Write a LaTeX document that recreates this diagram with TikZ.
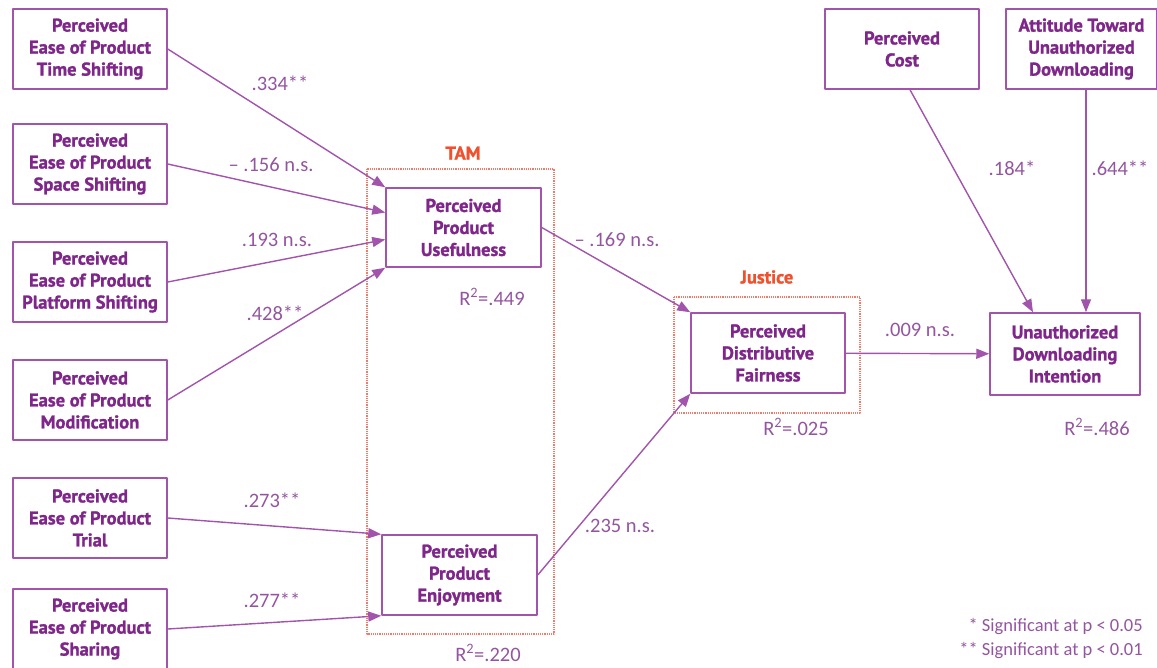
\documentclass[tikz,border=0pt]{standalone}
\usepackage{fontspec}
\setmainfont{PT Sans}
\newfontfamily\boxfont{PT Sans}[BoldFeatures={FakeBold=1.3}]
\newfontfamily\labfont{Carlito}
\usetikzlibrary{arrows.meta}
\definecolor{boxline}{HTML}{A254AC}
\definecolor{boxtext}{HTML}{7E2689}
\definecolor{labtext}{HTML}{9455A0}
\definecolor{grpred}{HTML}{F0502D}
\definecolor{grpdash}{HTML}{F27A68}
\begin{document}
\begin{tikzpicture}[x=1pt, y=-1pt, line join=round, >={Triangle[length=13pt,width=10pt]},
  var/.style={draw=boxline, line width=1.5pt, text=boxtext, align=center, inner sep=0pt,
    font=\boxfont\bfseries\fontsize{18.5}{22}\selectfont, minimum width=154pt, minimum height=80pt},
  path/.style={->, draw=boxline, line width=1.4pt},
  coef/.style={text=labtext, font=\labfont\fontsize{20.5}{22}\selectfont, inner sep=0pt},
  grp/.style={draw=grpdash, densely dotted, line width=1.2pt},
  grplab/.style={text=grpred, font=\boxfont\bfseries\fontsize{18.5}{22}\selectfont, inner sep=0pt}]
\useasboundingbox (0,0) rectangle (1157,667);

% Gruppenrahmen
\draw[grp] (367,169) rectangle (554,634);
\draw[grp] (674,297) rectangle (860,413);
\node[grplab] (tam) at (463,153) {TAM};
\node[grplab] (justice) at (767,277) {Justice};

% Einflussfaktoren links
\node[var] (ts) at (90,49) {Perceived\\Ease of Product\\Time Shifting};
\node[var] (ss) at (90,164) {Perceived\\Ease of Product\\Space Shifting};
\node[var] (ps) at (90,282) {Perceived\\Ease of Product\\Platform Shifting};
\node[var] (pm) at (90,400) {Perceived\\Ease of Product\\Modification};
\node[var] (pt) at (90,518) {Perceived\\Ease of Product\\Trial};
\node[var] (psh) at (90,629) {Perceived\\Ease of Product\\Sharing};

% TAM, Justice, Ergebnis
\node[var, minimum width=155pt, minimum height=79pt] (ppu) at (463.5,227.5) {Perceived\\Product\\Usefulness};
\node[var, minimum width=155pt] (ppe) at (459.5,575) {Perceived\\Product\\Enjoyment};
\node[var] (pdf) at (768,353) {Perceived\\Distributive\\Fairness};
\node[var, minimum width=150pt, minimum height=82pt] (udi) at (1065,354) {Unauthorized\\Downloading\\Intention};
\node[var] (cost) at (902,49) {Perceived\\Cost};
\node[var, minimum width=151pt] (att) at (1081.5,49) {Attitude Toward\\Unauthorized\\Downloading};

% Pfade
\draw[path] (ts.east) -- (ppu.north west);
\draw[path] (ss.east) -- ([yshift=15pt]ppu.west);
\draw[path] (ps.east) -- ([yshift=-12pt]ppu.west);
\draw[path] (pm.east) -- (ppu.south west);
\draw[path] (pt.east) -- (ppe.north west);
\draw[path] (psh.east) -- (ppe.south west);
\draw[path] (ppu.east) -- (pdf.north west);
\draw[path] (ppe.east) -- (pdf.south west);
\draw[path] (pdf) -- (udi);
\draw[path] ([xshift=8pt]cost.south) -- ([xshift=-32pt]udi.north);
\draw[path] ([xshift=4.5pt]att.south) -- ([xshift=4.5pt]att.south |- udi.north);

% Koeffizienten
\node[coef] (c1) at (280,83) {.334**};
\node[coef] (c2) at (271,165) {– .156 n.s.};
\node[coef] (c3) at (277,240) {.193 n.s.};
\node[coef] (c4) at (275,313) {.428**};
\node[coef] (c5) at (272,500) {.273**};
\node[coef] (c6) at (272,600) {.277**};
\node[coef] (c7) at (617,240) {– .169 n.s.};
\node[coef] (c8) at (620,526) {.235 n.s.};
\node[coef] (c9) at (920,330) {.009 n.s.};
\node[coef] (c10) at (1012,168) {.184*};
\node[coef] (c11) at (1120,168) {.644**};

% R-Quadrat
\node[coef] (r1) at (492,297) {R\textsuperscript{2}=.449};
\node[coef] (r2) at (488,653) {R\textsuperscript{2}=.220};
\node[coef] (r3) at (796,427) {R\textsuperscript{2}=.025};
\node[coef] (r4) at (1097,427) {R\textsuperscript{2}=.486};

% Legende
\node[coef, anchor=east, font=\labfont\fontsize{18.5}{24}\selectfont, align=right] (note) at (1143,639)
  {* Significant at p < 0.05\\** Significant at p < 0.01};
\end{tikzpicture}
\end{document}
